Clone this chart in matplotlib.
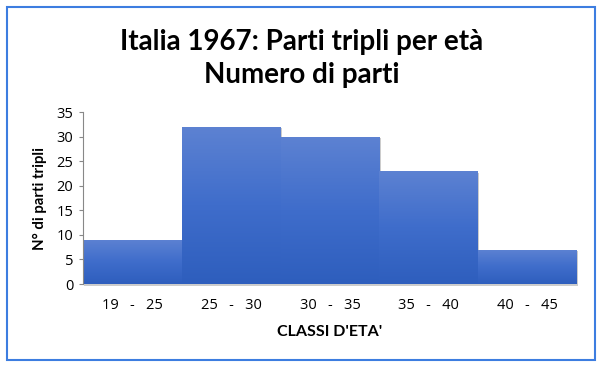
import matplotlib
matplotlib.use("Agg")
import matplotlib.pyplot as plt
import numpy as np
from matplotlib.patches import Rectangle
from matplotlib.colors import LinearSegmentedColormap

categories = ["19   -   25", "25   -   30", "30   -   35", "35   -   40", "40   -   45"]
values = [9, 32, 30, 23, 7]
yticks = [0, 5, 10, 15, 20, 25, 30, 35]

plt.rcParams['font.family'] = ['Lato', 'DejaVu Sans']

fig = plt.figure(figsize=(6.03, 3.67), dpi=100)
# outer border
fig.patches.append(Rectangle((7/603, 7/367), 588/603, 353/367, transform=fig.transFigure,
                             fill=False, edgecolor='#3d7de0', linewidth=1.5))

ax = fig.add_axes([83/603, 1-284/367, 494/603, 172/367])
x = np.arange(len(values))
cmap = LinearSegmentedColormap.from_list('g', ['#2e5ebd', '#3f6dcb', '#5d82d2'])
grad = np.linspace(0, 1, 256).reshape(-1, 1)
for xi, v in zip(x, values):
    # shadow
    ax.add_patch(Rectangle((xi - 0.5 + 0.012, -0.35), 1.0, v, facecolor='#9a9a9a', alpha=0.5,
                           edgecolor='none', zorder=1, clip_on=False))
    bar = ax.bar(xi, v, width=1.0, color='none', edgecolor='none', zorder=2)[0]
    im = ax.imshow(grad, extent=(xi - 0.5, xi + 0.5, 0, v), origin='lower', cmap=cmap,
                   aspect='auto', zorder=2)
    im.set_clip_path(bar)

ax.set_xlim(-0.5, len(values) - 0.5)
ax.set_ylim(0, 35)
ax.set_yticks(yticks)
ax.set_xticks(x)
ax.set_xticklabels(categories, fontsize=10.5, family=['Open Sans', 'DejaVu Sans'])
ax.tick_params(axis='y', labelsize=10.5, length=3, color='#888888', pad=4)
ax.tick_params(axis='x', length=0, pad=10)
for lab in ax.get_yticklabels():
    lab.set_family(['Open Sans', 'DejaVu Sans'])
for s in ['top', 'right', 'bottom']:
    ax.spines[s].set_visible(False)
ax.spines['left'].set_color('#888888')
ax.spines['left'].set_linewidth(0.8)

ax.set_xlabel("CLASSI D'ETA'", fontsize=11.5, fontweight='bold', labelpad=9)
ax.set_ylabel("N° di parti tripli", fontsize=10.8, fontweight='bold', labelpad=7)

fig.text(0.5, 1 - 42/367, "Italia 1967: Parti tripli per età", ha='center', va='center',
         fontsize=20, fontweight='bold')
fig.text(0.5, 1 - 75/367, "Numero di parti", ha='center', va='center',
         fontsize=20, fontweight='bold')

fig.savefig("out.png", dpi=100)
